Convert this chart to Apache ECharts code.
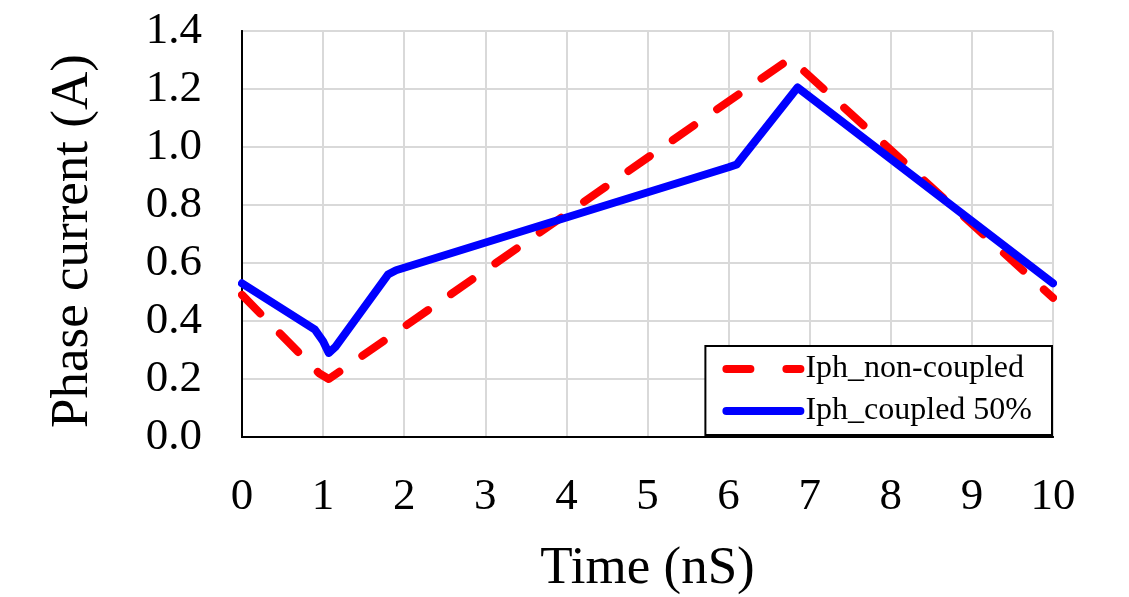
<!DOCTYPE html>
<html><head><meta charset="utf-8">
<script src="https://cdn.jsdelivr.net/npm/echarts@6/dist/echarts.min.js"></script>
<style>html,body{margin:0;padding:0;background:#fff}#c{width:1129px;height:597px}</style>
</head><body><div id="c"></div>
<script>
const nonCoupledX = [0, 0.95, 1.07, 1.2, 6.76, 10];
const nonCoupledY = [0.49, 0.22, 0.2, 0.225, 1.305, 0.48];
const coupledX = [0, 0.9, 1.0, 1.07, 1.15, 1.8, 1.9, 6.0, 6.1, 6.85, 10];
const coupledY = [0.53, 0.37, 0.33, 0.29, 0.31, 0.56, 0.575, 0.93, 0.94, 1.205, 0.53];
const seriesNames = ['Iph_non-coupled', 'Iph_coupled 50%'];
const xTitle = 'Time (nS)';
const yTitle = 'Phase current (A)';

const zip = (xs, ys) => xs.map((x, i) => [x, ys[i]]);
const font = 'Liberation Serif';
const chart = echarts.init(document.getElementById('c'));
const borderAxis = {axisLine: {show: true, lineStyle: {color: '#000', width: 2}}, axisTick: {show: false}, axisLabel: {show: false}, splitLine: {show: false}};
chart.setOption({
  animation: false,
  grid: {left: 242, right: 76, top: 31, bottom: 160, containLabel: false, outerBoundsMode: 'none'},
  xAxis: [{
    type: 'value', min: 0, max: 10, interval: 1,
    name: xTitle, nameLocation: 'middle', nameGap: 106,
    nameTextStyle: {fontFamily: font, fontSize: 53, color: '#000'},
    axisLabel: {fontFamily: font, fontSize: 45, color: '#000', margin: 38},
    axisLine: {show: true, lineStyle: {color: '#000', width: 2}},
    axisTick: {show: false},
    splitLine: {show: true, lineStyle: {color: '#d9d9d9', width: 2}}
  }, Object.assign({type: 'value', min: 0, max: 10, position: 'top'}, borderAxis)],
  yAxis: [{
    type: 'value', min: 0, max: 1.4, interval: 0.2,
    name: yTitle, nameLocation: 'middle', nameGap: 142,
    nameTextStyle: {fontFamily: font, fontSize: 53, color: '#000', padding: [0, 14, 0, 0]},
    axisLabel: {fontFamily: font, fontSize: 45, color: '#000', margin: 40, formatter: v => v.toFixed(1)},
    axisLine: {show: true, lineStyle: {color: '#000', width: 2}},
    axisTick: {show: false},
    splitLine: {show: true, lineStyle: {color: '#d9d9d9', width: 2}}
  }, Object.assign({type: 'value', min: 0, max: 1.4, position: 'right'}, borderAxis)],
  legend: {
    right: 77, bottom: 162, orient: 'vertical',
    backgroundColor: '#fff', borderColor: '#000', borderWidth: 2,
    padding: [7, 20, 8, 17], itemGap: 10, itemWidth: 74, itemHeight: 30,
    textStyle: {fontFamily: font, fontSize: 32, color: '#000'},
    lineStyle: {width: 8},
    itemStyle: {opacity: 0},
    data: [
      {name: seriesNames[0], lineStyle: {width: 8, type: [24, 36]}},
      {name: seriesNames[1], lineStyle: {width: 8, type: 'solid'}}
    ]
  },
  series: [
    {name: seriesNames[0], type: 'line', data: zip(nonCoupledX, nonCoupledY), showSymbol: false, symbol: 'none',
     lineStyle: {color: '#ff0000', width: 8, type: [26, 28], cap: 'round', join: 'round'}, itemStyle: {color: '#ff0000'}, z: 3},
    {name: seriesNames[1], type: 'line', data: zip(coupledX, coupledY), showSymbol: false, symbol: 'none',
     lineStyle: {color: '#0000ff', width: 8, cap: 'round', join: 'round'}, itemStyle: {color: '#0000ff'}, z: 4}
  ]
});
</script></body></html>
